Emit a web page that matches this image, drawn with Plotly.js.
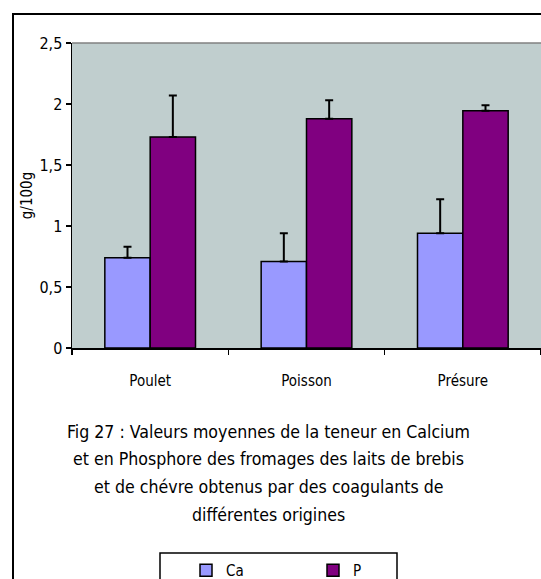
<!DOCTYPE html>
<html>
<head>
<meta charset="utf-8">
<script src="https://cdn.plot.ly/plotly-3.0.1.min.js"></script>
<style>html,body{margin:0;padding:0;background:#fff;}#chart{width:541px;height:579px;}</style>
</head>
<body>
<div id="chart"></div>
<script>
const categories = ["Poulet", "Poisson", "Présure"];
const caValues = [0.74, 0.71, 0.94];
const caErrPlus = [0.09, 0.23, 0.28];
const pValues = [1.73, 1.88, 1.945];
const pErrPlus = [0.34, 0.15, 0.045];
const tickVals = [0, 0.5, 1, 1.5, 2, 2.5];
const tickText = ["0", "0,5", "1", "1,5", "2", "2,5"];
const captionLines = [
  "Fig 27 : Valeurs moyennes de la teneur en Calcium",
  "et en Phosphore des fromages des laits de brebis",
  "et de chévre obtenus par des coagulants de",
  "différentes origines"
];

const FONT = "DejaVu Sans Condensed, Liberation Sans Narrow, Arial Narrow, sans-serif";
const W = 541, H = 579;
const L = 72, R = 0, T = 43, B = 231;
const pw = W - L - R, ph = H - T - B;
const px = x => (x - L) / pw;
const py = y => (H - B - y) / ph;

const traces = [
  {
    type: "bar", name: "Ca", x: categories, y: caValues,
    marker: {color: "#9999FF", line: {color: "#000", width: 1.5}},
    error_y: {type: "data", symmetric: false, array: caErrPlus, arrayminus: caValues.map(() => 0),
              color: "#000", thickness: 2, width: 4}
  },
  {
    type: "bar", name: "P", x: categories, y: pValues,
    marker: {color: "#800080", line: {color: "#000", width: 1.5}},
    error_y: {type: "data", symmetric: false, array: pErrPlus, arrayminus: pValues.map(() => 0),
              color: "#000", thickness: 2, width: 4}
  }
];

const annotations = captionLines.map((t, i) => ({
  text: t, xref: "paper", yref: "paper",
  x: px(268), y: py(432 + i * 27.5), xanchor: "center", yanchor: "middle",
  showarrow: false, font: {family: FONT, size: 17.6, color: "#000"}
}));

const layout = {
  width: W, height: H,
  margin: {l: L, r: R, t: T, b: B, pad: 0, autoexpand: false},
  paper_bgcolor: "#fff",
  plot_bgcolor: "#C0CECE",
  font: {family: FONT, color: "#000"},
  barmode: "group",
  bargap: 0.42,
  bargroupgap: 0,
  xaxis: {
    range: [-0.5, 2.5], showline: true, linecolor: "#000", linewidth: 1.5,
    ticks: "outside", tickson: "boundaries", ticklen: 5, tickcolor: "#000", tickwidth: 1.5,
    tickfont: {family: FONT, size: 15}, ticklabelstandoff: 18,
    showgrid: false, zeroline: false, fixedrange: true, automargin: false
  },
  yaxis: {
    range: [0, 2.5], tickvals: tickVals, ticktext: tickText,
    showline: true, linecolor: "#000", linewidth: 1.5,
    ticks: "outside", ticklen: 5, tickcolor: "#000", tickwidth: 1.5,
    tickfont: {family: FONT, size: 16}, showgrid: false, zeroline: false,
    title: {text: "g/100g", font: {family: FONT, size: 15}, standoff: 3},
    fixedrange: true, automargin: false
  },
  showlegend: true,
  legend: {
    orientation: "h", x: px(186), y: py(554), xanchor: "left", yanchor: "top",
    bgcolor: "rgba(0,0,0,0)", borderwidth: 0,
    entrywidth: 82, entrywidthmode: "pixels",
    font: {family: FONT, size: 15}, traceorder: "normal"
  },
  shapes: [
    {type: "rect", xref: "paper", yref: "paper", x0: px(13), x1: px(560), y0: py(620), y1: py(14),
     line: {color: "#000", width: 2}, fillcolor: "rgba(0,0,0,0)", layer: "below"},
    {type: "line", xref: "paper", yref: "paper", x0: 0, x1: 1, y0: 1, y1: 1,
     line: {color: "#808080", width: 1.5}},
    {type: "rect", xref: "paper", yref: "paper", x0: px(160), x1: px(397), y0: py(610), y1: py(553),
     line: {color: "#000", width: 1.5}, fillcolor: "rgba(0,0,0,0)"}
  ],
  annotations: annotations
};

Plotly.newPlot("chart", traces, layout, {staticPlot: true, displayModeBar: false});
</script>
</body>
</html>
